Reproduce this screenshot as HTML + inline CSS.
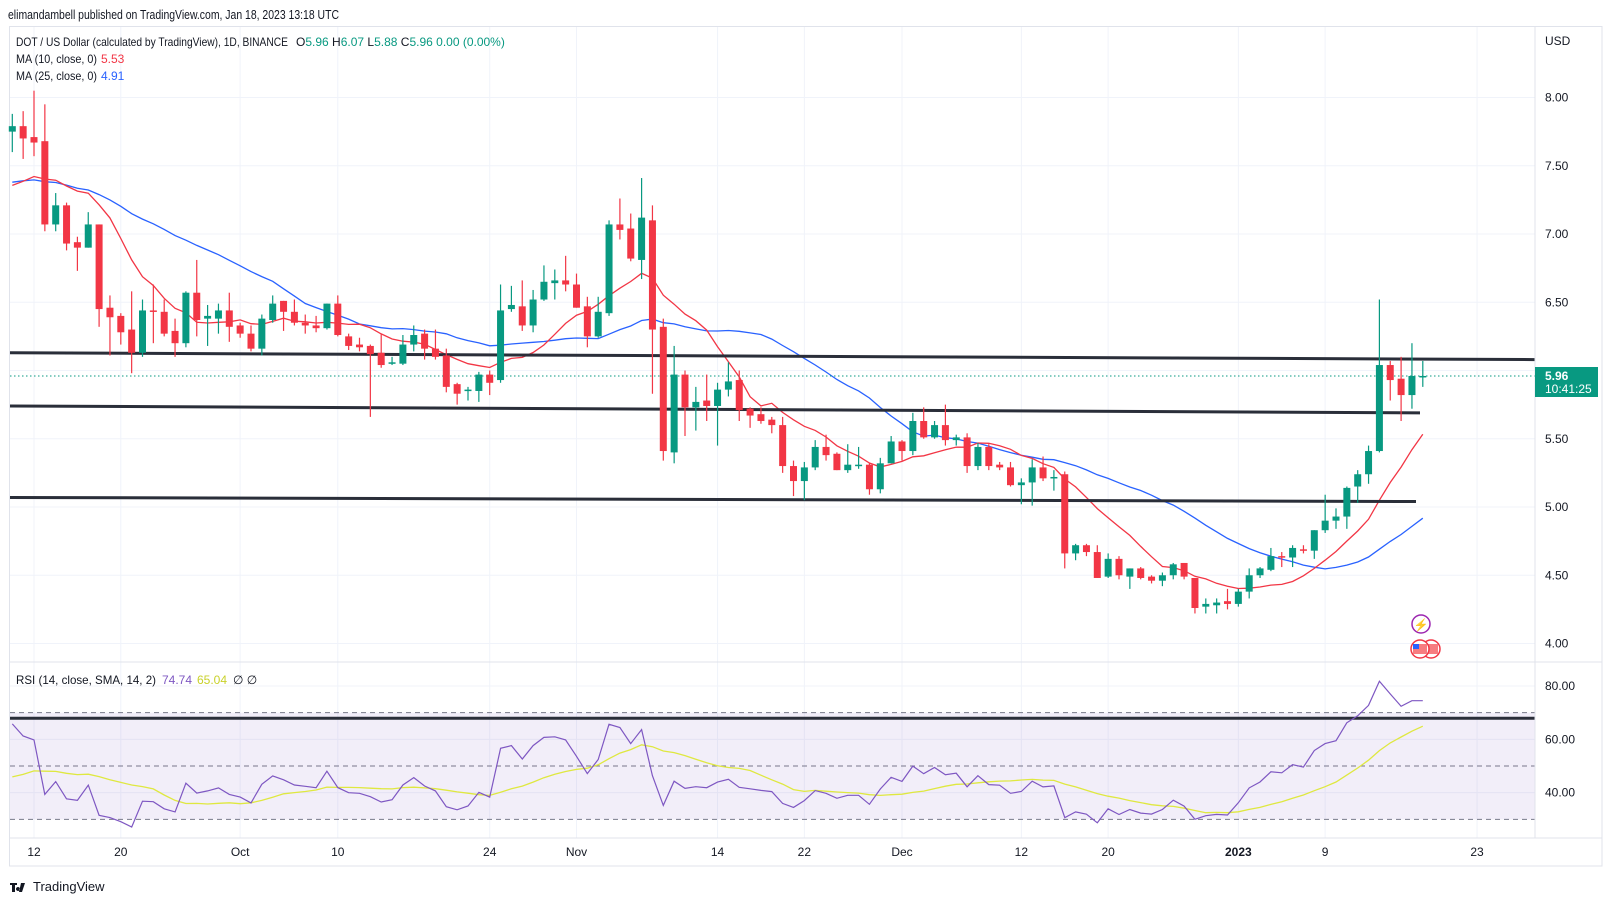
<!DOCTYPE html>
<html><head><meta charset="utf-8"><style>
html,body{margin:0;padding:0;background:#fff;}
svg{display:block;font-family:"Liberation Sans",sans-serif;}
</style></head><body>
<svg id="chart" width="1613" height="901" viewBox="0 0 1613 901" xmlns="http://www.w3.org/2000/svg">
<rect x="0" y="0" width="1613" height="901" fill="#ffffff"/>
<text x="8" y="19" font-size="13" fill="#131722" textLength="331" lengthAdjust="spacingAndGlyphs">elimandambell published on TradingView.com, Jan 18, 2023 13:18 UTC</text>
<rect x="9.5" y="26.5" width="1592.5" height="839.5" fill="none" stroke="#e0e3eb"/>
<g id="grid"></g>
<rect x="10" y="712.7" width="1525" height="106.7" fill="#7e57c2" fill-opacity="0.1"/>
<g id="marks"></g>
<line x1="10" y1="662" x2="1602" y2="662" stroke="#e0e3eb"/>
<line x1="1535" y1="27" x2="1535" y2="838" stroke="#e0e3eb"/>
<line x1="10" y1="838" x2="1602" y2="838" stroke="#e0e3eb"/>
<g id="axes"></g>
<g font-size="12">
<text x="16" y="46" fill="#131722" textLength="272" lengthAdjust="spacingAndGlyphs">DOT / US Dollar (calculated by TradingView), 1D, BINANCE</text>
<text x="296" y="46" fill="#131722">O<tspan fill="#089981">5.96</tspan>  H<tspan fill="#089981">6.07</tspan>  L<tspan fill="#089981">5.88</tspan>  C<tspan fill="#089981">5.96</tspan>  <tspan fill="#089981">0.00 (0.00%)</tspan></text>
<text x="16" y="63" fill="#131722" textLength="81" lengthAdjust="spacingAndGlyphs">MA (10, close, 0)</text>
<text x="101" y="63" fill="#f23645">5.53</text>
<text x="16" y="80" fill="#131722" textLength="81" lengthAdjust="spacingAndGlyphs">MA (25, close, 0)</text>
<text x="101" y="80" fill="#2962ff">4.91</text>
<text x="16" y="684" fill="#131722" textLength="140" lengthAdjust="spacingAndGlyphs">RSI (14, close, SMA, 14, 2)</text>
<text x="162" y="684" fill="#7e57c2">74.74</text>
<text x="197" y="684" fill="#c9d12a">65.04</text>
<text x="233" y="684" fill="#131722">∅  ∅</text>
</g>
<text x="1545" y="45" font-size="12" fill="#131722">USD</text>
<g>
<rect x="1535" y="367" width="63" height="30" fill="#089981"/>
<text x="1545" y="380" font-size="12" font-weight="bold" fill="#fff">5.96</text>
<text x="1545" y="393" font-size="12" fill="#fff">10:41:25</text>
</g>
<g>
<circle cx="1421" cy="624" r="9" fill="#fff" stroke="#9c27b0" stroke-width="1.5"/>
<text x="1421" y="629" font-size="12" fill="#9c27b0" text-anchor="middle">⚡</text>
<circle cx="1431" cy="649" r="9" fill="#fff" stroke="#f23645" stroke-width="1.5"/>
<rect x="1424" y="644" width="14" height="10" fill="#f77c80"/>
<circle cx="1420" cy="649" r="9" fill="#fff" stroke="#f23645" stroke-width="1.5"/>
<rect x="1413" y="644" width="14" height="10" fill="#f77c80"/>
<rect x="1413" y="644" width="6" height="5" fill="#2962ff"/>
</g>
<g>
<path d="M10 883h7v2h-2v7h-3v-7h-2z M18 887a2 2 0 1 0 0.01 0z M21 883h4l-3 9h-3z" fill="#131722"/>
<text x="33" y="891" font-size="13" fill="#131722">TradingView</text>
</g>
</svg>
<script>
const opens=[7.75,7.79,7.71,7.68,7.07,7.21,6.94,6.90,7.07,6.46,6.40,6.30,6.13,6.44,6.43,6.29,6.20,6.57,6.38,6.38,6.44,6.33,6.27,6.16,6.37,6.51,6.43,6.35,6.33,6.31,6.49,6.25,6.19,6.18,6.13,6.05,6.05,6.19,6.27,6.16,6.11,5.90,5.85,5.85,5.97,5.93,6.45,6.47,6.33,6.52,6.64,6.66,6.63,6.47,6.25,6.42,7.07,7.04,6.81,7.10,6.32,5.40,5.97,5.73,5.78,5.74,5.86,5.93,5.72,5.68,5.64,5.60,5.30,5.19,5.29,5.44,5.39,5.27,5.30,5.31,5.13,5.32,5.48,5.41,5.63,5.51,5.60,5.49,5.51,5.30,5.44,5.31,5.29,5.16,5.18,5.29,5.21,5.24,4.66,4.72,4.67,4.49,4.62,4.49,4.55,4.49,4.46,4.50,4.59,4.48,4.27,4.28,4.31,4.29,4.38,4.50,4.54,4.64,4.63,4.69,4.68,4.83,4.90,4.93,5.15,5.24,5.41,6.04,5.94,5.82,5.96];
const highs=[7.88,7.90,8.05,7.95,7.30,7.23,6.98,7.16,7.07,6.55,6.42,6.58,6.52,6.63,6.52,6.38,6.58,6.81,6.48,6.49,6.57,6.35,6.33,6.41,6.55,6.51,6.52,6.41,6.40,6.49,6.55,6.27,6.24,6.19,6.27,6.10,6.26,6.33,6.30,6.30,6.16,5.91,5.88,5.99,6.00,6.63,6.62,6.66,6.59,6.77,6.74,6.84,6.71,6.54,6.54,7.10,7.26,7.15,7.41,7.21,6.38,6.18,6.00,5.88,5.97,5.91,6.06,6.00,5.73,5.73,5.66,5.66,5.34,5.33,5.49,5.53,5.40,5.46,5.44,5.32,5.36,5.52,5.49,5.69,5.73,5.63,5.75,5.53,5.54,5.47,5.46,5.33,5.33,5.21,5.35,5.37,5.27,5.26,4.73,4.73,4.72,4.66,4.64,4.55,4.56,4.50,4.52,4.59,4.59,4.48,4.33,4.33,4.40,4.40,4.55,4.56,4.70,4.67,4.72,4.72,4.83,5.09,4.99,5.15,5.27,5.45,6.52,6.07,6.10,6.20,6.07];
const lows=[7.60,7.55,7.57,7.02,7.02,6.88,6.73,6.90,6.32,6.11,6.19,5.98,6.10,6.20,6.25,6.10,6.17,6.25,6.18,6.27,6.21,6.24,6.14,6.11,6.35,6.29,6.33,6.27,6.28,6.30,6.25,6.15,6.14,5.66,6.02,6.04,6.04,6.14,6.08,6.08,5.84,5.75,5.78,5.77,5.82,5.91,6.43,6.29,6.28,6.51,6.52,6.58,6.46,6.17,6.24,6.40,6.96,6.80,6.67,5.83,5.34,5.32,5.52,5.56,5.63,5.45,5.81,5.63,5.58,5.61,5.54,5.25,5.08,5.05,5.27,5.34,5.27,5.25,5.28,5.09,5.10,5.32,5.34,5.38,5.50,5.50,5.45,5.45,5.25,5.27,5.27,5.27,5.15,5.02,5.01,5.19,5.12,4.55,4.61,4.64,4.48,4.48,4.47,4.40,4.47,4.44,4.42,4.47,4.47,4.22,4.22,4.22,4.25,4.27,4.33,4.48,4.53,4.56,4.56,4.66,4.62,4.81,4.84,4.84,5.03,5.17,5.40,5.78,5.63,5.72,5.88];
const closes=[7.79,7.70,7.67,7.07,7.21,6.93,6.90,7.07,6.45,6.39,6.28,6.13,6.44,6.43,6.27,6.20,6.57,6.37,6.40,6.44,6.32,6.27,6.16,6.38,6.49,6.43,6.35,6.33,6.31,6.49,6.26,6.18,6.17,6.12,6.04,6.06,6.19,6.26,6.16,6.10,5.88,5.83,5.86,5.97,5.91,6.44,6.48,6.33,6.52,6.65,6.66,6.63,6.46,6.25,6.43,7.07,7.03,6.82,7.12,6.30,5.41,5.97,5.73,5.77,5.74,5.86,5.92,5.71,5.67,5.63,5.60,5.30,5.19,5.29,5.44,5.38,5.27,5.31,5.31,5.13,5.32,5.48,5.41,5.63,5.51,5.60,5.49,5.51,5.30,5.44,5.30,5.29,5.16,5.18,5.29,5.21,5.22,4.66,4.72,4.67,4.48,4.62,4.50,4.55,4.48,4.46,4.50,4.58,4.49,4.26,4.29,4.30,4.29,4.38,4.50,4.55,4.64,4.63,4.70,4.68,4.83,4.90,4.93,5.14,5.24,5.41,6.04,5.93,5.82,5.96,5.96];
const priorCloses=[7.45,7.50,7.40,7.35,7.42,7.48,7.38,7.30,7.36,7.44,7.50,7.42,7.30,7.28,7.35,7.40,7.32,7.25,7.30,7.35,7.28,7.22,7.30,7.35];
const priceTicks=[8.00,7.50,7.00,6.50,6.00,5.50,5.00,4.50,4.00];
const rsiTicks=[80,60,40];
const dateTickIdx=[2,10,21,30,44,52,65,73,82,93,101,113,121,135];
const dateTickLabels=["12","20","Oct","10","24","Nov","14","22","Dec","12","20","2023","9","23"];
const levels=[[6.13,6.08],[5.74,5.69],[5.07,5.04]];
const levelEnds=[1535,1420,1416];

const NS="http://www.w3.org/2000/svg";
const X0=12.3, DX=10.85;
const xOf=i=>X0+i*DX;
const yP=p=>97.5+(8-p)*136.5;
const yR=r=>686+(80-r)*2.667;
function mk(tag,attrs,parent){const e=document.createElementNS(NS,tag);for(const k in attrs)e.setAttribute(k,attrs[k]);parent.appendChild(e);return e;}
const grid=document.getElementById('grid'),marks=document.getElementById('marks'),axes=document.getElementById('axes');

priceTicks.forEach(p=>{
  const l=mk('line',{x1:10,x2:1535,y1:yP(p),y2:yP(p),stroke:'#f0f3fa'},grid);
  
  
  if(p===6.00)return;
  const t=mk('text',{x:1545,y:yP(p)+4,'font-size':12,fill:'#131722'},axes);
  t.textContent=p.toFixed(2);
  
  
});
rsiTicks.forEach(r=>{
  const l=mk('line',{x1:10,x2:1535,y1:yR(r),y2:yR(r),stroke:'#f0f3fa'},grid);
  
  
  const t=mk('text',{x:1545,y:yR(r)+4,'font-size':12,fill:'#131722'},axes);
  t.textContent=r.toFixed(2);
  
  
});
dateTickIdx.forEach((d,k)=>{
  const x=xOf(d);
  const l=mk('line',{x1:x,x2:x,y1:27,y2:838,stroke:'#f0f3fa'},grid);
  
  
  const t=mk('text',{x:x,y:856,'font-size':12,fill:'#131722','text-anchor':'middle','font-weight':dateTickLabels[k]==='2023'?'bold':'normal'},axes);
  t.textContent=dateTickLabels[k];
  
  
});
[70,50,30].forEach(r=>{
  const l=mk('line',{x1:10,x2:1535,y1:yR(r),y2:yR(r),stroke:'#787b86','stroke-dasharray':'5,4'},grid);
  
  
});

const all=priorCloses.concat(closes), off=priorCloses.length;
function sma(n){return closes.map((c,i)=>{const j=i+off;let s=0,c2=0;for(let k=Math.max(0,j-n+1);k<=j;k++){s+=all[k];c2++;}return s/c2;});}
function poly(vals,yf,color,name,w){
  const pts=vals.map((v,i)=>v==null?null:xOf(i).toFixed(1)+','+yf(v).toFixed(1)).filter(Boolean).join(' ');
  const pl=mk('polyline',{points:pts,fill:'none',stroke:color,'stroke-width':w||1.3},marks);
  
  
}
poly(sma(25),yP,'#2962ff','ma25-line');
poly(sma(10),yP,'#f23645','ma10-line');

levels.forEach((lv,k)=>{
  const l=mk('line',{x1:10,x2:levelEnds[k],y1:yP(lv[0]),y2:yP(lv[1]),stroke:'#2a2e39','stroke-width':3},marks);
  
  
});
const rl=mk('line',{x1:10,x2:1535,y1:718.3,y2:718.3,stroke:'#2a2e39','stroke-width':3},marks);



const lp=mk('line',{x1:10,x2:1535,y1:yP(closes[closes.length-1]),y2:yP(closes[closes.length-1]),stroke:'#089981','stroke-dasharray':'1.5,2.5'},marks);



closes.forEach((c,i)=>{
  const o=opens[i],h=highs[i],l=lows[i],x=xOf(i);
  const col=c>=o?'#089981':'#f23645';
  const g=mk('g',{},marks);
  
  
  mk('line',{x1:x,x2:x,y1:yP(h),y2:yP(l),stroke:col,'stroke-width':1.2},g);
  const top=yP(Math.max(o,c)),bot=yP(Math.min(o,c));
  mk('rect',{x:x-3.5,y:top,width:7,height:Math.max(1.5,bot-top),fill:col},g);
});

// RSI over full history (prior + visible), SMA 14 also using warm-up values
const rsiAll=[];let ag=0,al=0;
for(let j=1;j<all.length;j++){
  const d=all[j]-all[j-1],g=Math.max(d,0),ls=Math.max(-d,0);
  if(j<=14){ag+=g/14;al+=ls/14;}else{ag=(ag*13+g)/14;al=(al*13+ls)/14;}
  rsiAll.push(al===0?100:100-100/(1+ag/al));
}
const smaAll=rsiAll.map((v,i)=>{let s=0,n=0;for(let k=Math.max(0,i-13);k<=i;k++){s+=rsiAll[k];n++;}return s/n;});
const rsi=rsiAll.slice(off-1), rsiSma=smaAll.slice(off-1);
poly(rsiSma,yR,'#dfe840','rsi-sma-line',1.3);
poly(rsi,yR,'#7e57c2','rsi-line',1.2);
</script>
</body></html>
